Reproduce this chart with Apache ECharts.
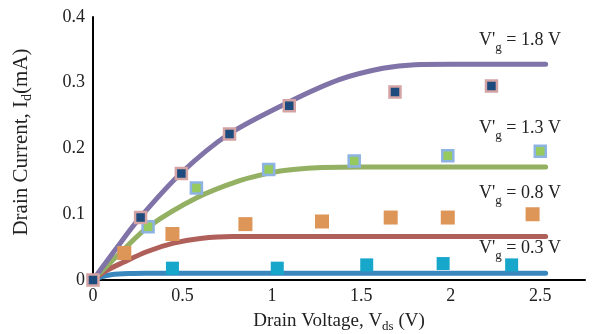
<!DOCTYPE html>
<html><head><meta charset="utf-8">
<script src="https://cdn.jsdelivr.net/npm/echarts@6/dist/echarts.min.js"></script>
<style>html,body{margin:0;padding:0;background:#fff}#c{width:592px;height:334px}</style>
</head><body><div id="c"></div>
<script>
// Model curves (x = Vds [V], y = Id [mA])
const curve18 = [[0,0],[0.13,0.048],[0.26,0.094],[0.49,0.162],[0.76,0.222],[1.09,0.270],[1.38,0.305],[1.62,0.322],[1.8,0.3275],[2.0,0.328],[2.53,0.328]];
const curve13 = [[0,0],[0.17,0.046],[0.31,0.081],[0.58,0.125],[0.82,0.151],[0.99,0.163],[1.12,0.168],[1.28,0.171],[1.5,0.172],[2.0,0.172],[2.53,0.172]];
const curve08 = [[0,0],[0.08,0.015],[0.17,0.027],[0.3,0.043],[0.45,0.056],[0.6,0.063],[0.78,0.066],[1.2,0.066],[2.53,0.066]];
const curve03 = [[0,0],[0.05,0.005],[0.1,0.008],[0.2,0.0098],[0.3,0.0102],[1.0,0.0102],[2.53,0.0102]];
// Measured points
const meas18 = [[0,0],[0.266,0.095],[0.494,0.162],[0.763,0.222],[1.097,0.265],[1.688,0.286],[2.227,0.295]];
const meas13 = [[0.308,0.081],[0.578,0.140],[0.982,0.168],[1.46,0.181],[1.983,0.189],[2.5,0.196]];
const meas08 = [[0.175,0.041],[0.444,0.070],[0.852,0.085],[1.28,0.089],[1.664,0.095],[1.983,0.095],[2.457,0.100]];
const meas03 = [[0.444,0.018],[1.03,0.018],[1.53,0.023],[1.957,0.025],[2.34,0.023]];
const labels = ["1.8","1.3","0.8","0.3"];
const xTicks = [0,0.5,1,1.5,2,2.5];

const font = "Liberation Serif";
const chart = echarts.init(document.getElementById('c'));
function line(data,color){return {type:'line',data:data,smooth:0.3,showSymbol:false,symbol:'none',
  lineStyle:{color:color,width:5,cap:'round'},z:2,silent:true};}
function pts(data,fill,border,size){return {type:'scatter',data:data,symbol:'rect',symbolSize:size,
  itemStyle:{color:fill,borderColor:border||fill,borderWidth:border?2.5:0,opacity:1},z:3,silent:true};}
function rich(fs,ss,drop){return {
  n:{fontFamily:font,fontSize:fs,fill:'#222',color:'#222',verticalAlign:'top',lineHeight:fs+2},
  s:{fontFamily:font,fontSize:ss,fill:'#222',color:'#222',verticalAlign:'top',lineHeight:ss,padding:[drop,0,0,0]}};}
const labY = [42,130,195,250];
chart.setOption({
  animation:false,
  grid:{left:93,right:7,top:17,bottom:54},
  xAxis:{type:'value',min:0,max:2.75,interval:0.5,
    axisLine:{lineStyle:{color:'#000',width:2}},axisTick:{show:false},splitLine:{show:false},
    axisLabel:{fontFamily:font,fontSize:18,color:'#222',margin:7,
      formatter:v=>xTicks.some(t=>Math.abs(t-v)<1e-9)?String(v):''}},
  yAxis:{type:'value',min:0,max:0.4,interval:0.1,
    axisLine:{show:true,lineStyle:{color:'#000',width:2}},axisTick:{show:false},splitLine:{show:false},
    axisLabel:{fontFamily:font,fontSize:18,color:'#222',margin:8}},
  graphic: labels.map((l,i)=>({type:'text',x:479,y:labY[i]-11,z:10,
    style:{text:"{n|V'}{s|g}{n| = "+l+" V}",rich:rich(18,13,10)}})).concat([
    {type:'text',x:339,y:322,z:10,style:{text:'{n|Drain Voltage, V}{s|ds}{n| (V)}',rich:rich(19,13,9),align:'center',verticalAlign:'middle'}},
    {type:'text',x:22,y:142,rotation:Math.PI/2,z:10,style:{text:'{n|Drain Current, I}{s|d}{n|(mA)}',rich:rich(21,14,10),align:'center',verticalAlign:'middle'}}
  ]),
  series:[
    line(curve03,'#3A87BE'),line(curve08,'#B0605A'),line(curve13,'#93B063'),line(curve18,'#7F73A8'),
    pts(meas03,'#16A7CA',null,13),pts(meas08,'#DE9658',null,14),pts(meas13,'#96C95E','#8DB3E2',11),pts(meas18,'#1D4B7E','#D4A3A3',11)
  ]
});
</script></body></html>
